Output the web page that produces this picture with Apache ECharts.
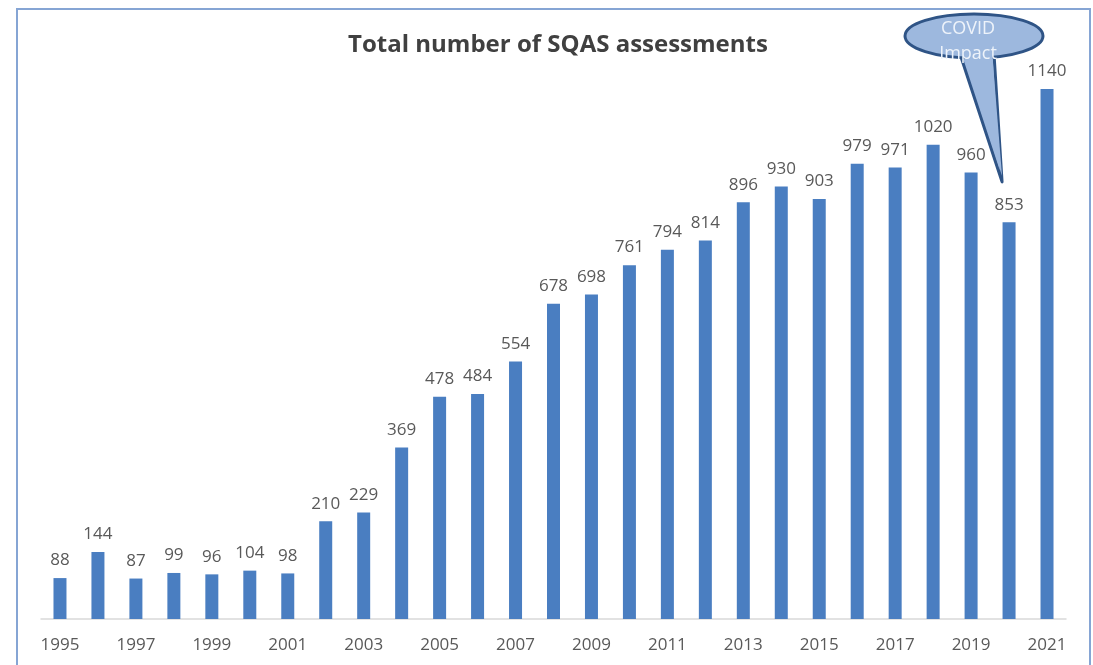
<!DOCTYPE html>
<html>
<head>
<meta charset="utf-8">
<script src="https://cdn.jsdelivr.net/npm/echarts@6/dist/echarts.min.js"></script>
<style>
  html, body { margin: 0; padding: 0; background: #fff; }
  #chart { width: 1093px; height: 665px; }
</style>
</head>
<body>
<div id="chart"></div>
<script>
// data
const years = ['1995', '1996', '1997', '1998', '1999', '2000', '2001', '2002', '2003',
  '2004', '2005', '2006', '2007', '2008', '2009', '2010', '2011', '2012', '2013',
  '2014', '2015', '2016', '2017', '2018', '2019', '2020', '2021'];
const assessments = [88, 144, 87, 99, 96, 104, 98, 210, 229, 369, 478, 484, 554, 678, 698,
  761, 794, 814, 896, 930, 903, 979, 971, 1020, 960, 853, 1140];
const calloutText = 'COVID\nImpact';
const calloutYear = '2020';

const chart = echarts.init(document.getElementById('chart'));

const option = {
  animation: false,
  title: {
    text: 'Total number of SQAS assessments',
    left: 553,
    top: 28,
    textAlign: 'center',
    textStyle: {
      fontFamily: 'Open Sans',
      fontSize: 24,
      fontWeight: 'bold',
      color: '#404040'
    }
  },
  grid: {
    left: 41,
    right: 27,
    top: 61,
    bottom: 46
  },
  xAxis: {
    type: 'category',
    data: years,
    axisLine: { lineStyle: { color: '#d9d9d9', width: 1.5 } },
    axisTick: { show: false },
    axisLabel: {
      interval: 1,
      margin: 18,
      fontFamily: 'Open Sans',
      fontSize: 17,
      color: '#595959'
    }
  },
  yAxis: {
    type: 'value',
    min: 0,
    max: 1200,
    show: false,
    splitLine: { show: false }
  },
  series: [{
    type: 'bar',
    data: assessments,
    barWidth: 13,
    itemStyle: { color: '#4a7ec1' },
    label: {
      show: true,
      position: 'top',
      distance: 9,
      fontFamily: 'Open Sans',
      fontSize: 17,
      color: '#595959'
    }
  }]
};
chart.setOption(option);

// callout bubble pointing at the 2020 bar
const tip = chart.convertToPixel({ gridIndex: 0 }, [calloutYear, 940]);
const cx = 974, cy = 36, rx = 69, ry = 22;
const tipX = tip[0] - 7, tipY = tip[1];

chart.setOption({
  graphic: [
    {
      type: 'rect',
      shape: { x: 17, y: 9, width: 1073, height: 700 },
      style: { fill: 'none', stroke: '#86a5d4', lineWidth: 2 },
      z: 1
    },
    {
      type: 'polygon',
      shape: { points: [[cx - 14, cy + 18], [cx + 20, cy + 18], [tipX, tipY]] },
      style: { fill: '#9db8de', stroke: '#2f5486', lineWidth: 3, lineJoin: 'round' },
      z: 10
    },
    {
      type: 'ellipse',
      shape: { cx: cx, cy: cy, rx: rx, ry: ry },
      style: { fill: '#9db8de', stroke: '#2f5486', lineWidth: 3 },
      z: 11
    },
    {
      type: 'polygon',
      shape: { points: [[cx - 12, cy + 15], [cx + 18, cy + 15], [tipX, tipY - 6]] },
      style: { fill: '#9db8de' },
      z: 12
    },
    {
      type: 'text',
      x: cx - 6,
      y: cy + 5,
      style: {
        text: calloutText,
        fill: '#eef3fa',
        font: '18px "Open Sans"',
        align: 'center',
        verticalAlign: 'middle',
        lineHeight: 25
      },
      z: 13
    }
  ]
});
</script>
</body>
</html>
